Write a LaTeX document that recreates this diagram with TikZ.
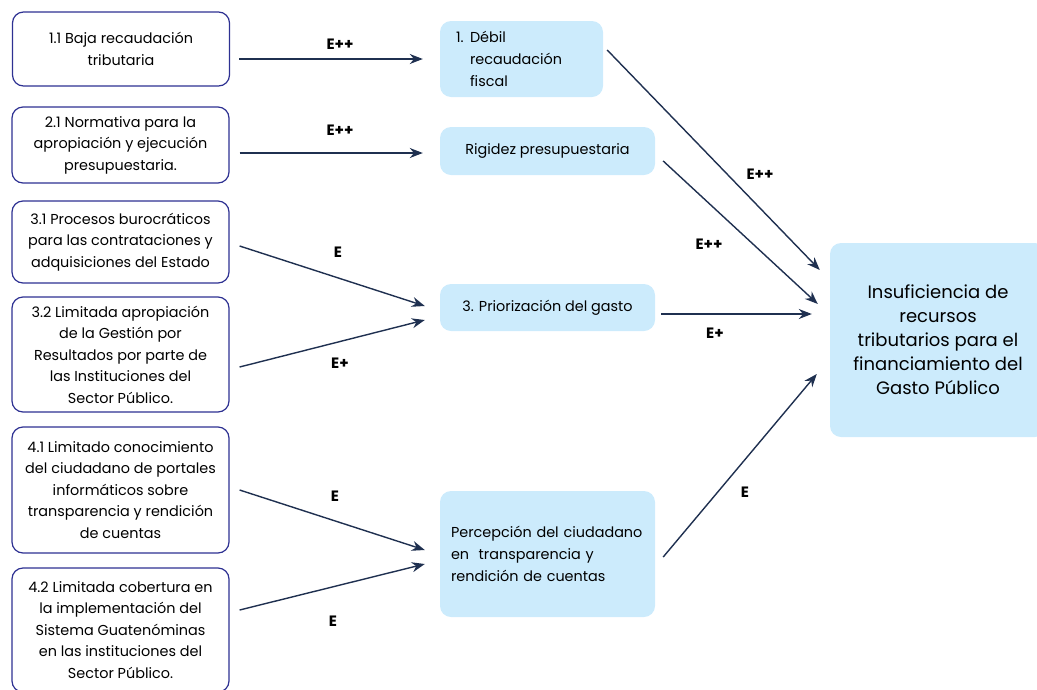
\documentclass[tikz,border=0pt]{standalone}
\usepackage{fontspec}
\setmainfont{Poppins}
\usetikzlibrary{arrows.meta}
\definecolor{boxline}{RGB}{46,49,146}
\definecolor{arrowcol}{RGB}{31,48,80}
\definecolor{softblue}{RGB}{204,235,252}
\begin{document}
\begin{tikzpicture}[x=1pt,y=-1pt,
  cause/.style={draw=boxline, line width=1.2pt, rounded corners=11pt, fill=white,
    minimum width=217pt, align=center, inner sep=0pt,
    font=\fontsize{14.4}{21.5}\selectfont},
  effect/.style={fill=softblue, rounded corners=11pt, inner sep=0pt,
    font=\fontsize{14.4}{22}\selectfont},
  link/.style={draw=arrowcol, line width=1.4pt, -{Stealth[length=13pt,width=10pt]}},
  grade/.style={font=\fontsize{15}{15}\selectfont\bfseries, inner sep=1pt}]
  \useasboundingbox (0,0) rectangle (1037,689);
  % causes
  \node[cause, minimum height=74pt] (b11) at (121,49) {1.1 Baja recaudación\\tributaria};
  \node[cause, minimum height=76pt] (b21) at (120.5,145) {2.1 Normativa para la\\apropiación y ejecución\\presupuestaria.};
  \node[cause, minimum height=82pt] (b31) at (120.5,242) {3.1 Procesos burocráticos\\para las contrataciones y\\adquisiciones del Estado};
  \node[cause, minimum height=115pt] (b32) at (120.5,354.5) {3.2 Limitada apropiación\\de la Gestión por\\Resultados por parte de\\las Instituciones del\\Sector Público.};
  \node[cause, minimum height=126pt] (b41) at (120.5,490) {4.1 Limitado conocimiento\\del ciudadano de portales\\informáticos sobre\\transparencia y rendición\\de cuentas};
  \node[cause, minimum height=124pt] (b42) at (120.5,630) {4.2 Limitada cobertura en\\la implementación del\\Sistema Guatenóminas\\en las instituciones del\\Sector Público.};
  % effects
  \node[effect, minimum width=163pt, minimum height=76pt, text width=131pt, align=left, inner xsep=16pt] (m1) at (521.5,59)
    {\makebox[14pt][l]{1.}Débil\\\hspace*{14pt}recaudación\\\hspace*{14pt}fiscal};
  \node[effect, minimum width=215pt, minimum height=48pt, align=center] (m2) at (547.5,151) {Rigidez presupuestaria};
  \node[effect, minimum width=215pt, minimum height=47pt, align=center] (m3) at (547.5,307.5) {3. Priorización del gasto};
  \node[effect, minimum width=215pt, minimum height=126pt, text width=193pt, align=left, inner xsep=11pt] (m4) at (547.5,554)
    {Percepción del ciudadano\\en~ transparencia y\\rendición de cuentas};
  \node[effect, minimum width=216pt, minimum height=194pt, align=center, font=\fontsize{18}{24}\selectfont] (res) at (938,340)
    {Insuficiencia de\\recursos\\tributarios para el\\financiamiento del\\Gasto Público};
  % links
  \draw[link] ([xshift=9pt,yshift=-10pt]b11.east) -- ([xshift=-17pt,yshift=0pt]m1.west);
  \draw[link] ([xshift=10pt,yshift=-8pt]b21.east) -- ([xshift=-17pt,yshift=-2pt]m2.west);
  \draw[link] ([xshift=10pt,yshift=-4pt]b31.east) -- ([xshift=-15pt,yshift=1.5pt]m3.west);
  \draw[link] ([xshift=10pt,yshift=-12.5pt]b32.east) -- ([xshift=-15pt,yshift=-12.5pt]m3.west);
  \draw[link] ([xshift=10pt]b41.east) -- ([xshift=-15pt,yshift=4pt]m4.west);
  \draw[link] ([xshift=10pt,yshift=20pt]b42.east) -- ([xshift=-15pt,yshift=-10pt]m4.west);
  \draw[link] ([xshift=4pt,yshift=9pt]m1.east) -- ([xshift=-10pt,yshift=70pt]res.west);
  \draw[link] ([xshift=8pt,yshift=-10pt]m2.east) -- ([xshift=-12pt,yshift=36pt]res.west);
  \draw[link] ([xshift=6pt,yshift=-6.5pt]m3.east) -- ([xshift=-18pt,yshift=26pt]res.west);
  \draw[link] ([xshift=8pt,yshift=-3pt]m4.east) -- ([xshift=-13pt,yshift=-34pt]res.west);
  % grades
  \node[grade] (g1) at (340,44) {E++};
  \node[grade] (g2) at (340,130) {E++};
  \node[grade] (g3) at (338,252) {E};
  \node[grade] (g4) at (340,363) {E+};
  \node[grade] (g5) at (335,496) {E};
  \node[grade] (g6) at (333,621) {E};
  \node[grade] (g7) at (760,174) {E++};
  \node[grade] (g8) at (709,244) {E++};
  \node[grade] (g9) at (715,333) {E+};
  \node[grade] (g10) at (745,492) {E};
\end{tikzpicture}
\end{document}
